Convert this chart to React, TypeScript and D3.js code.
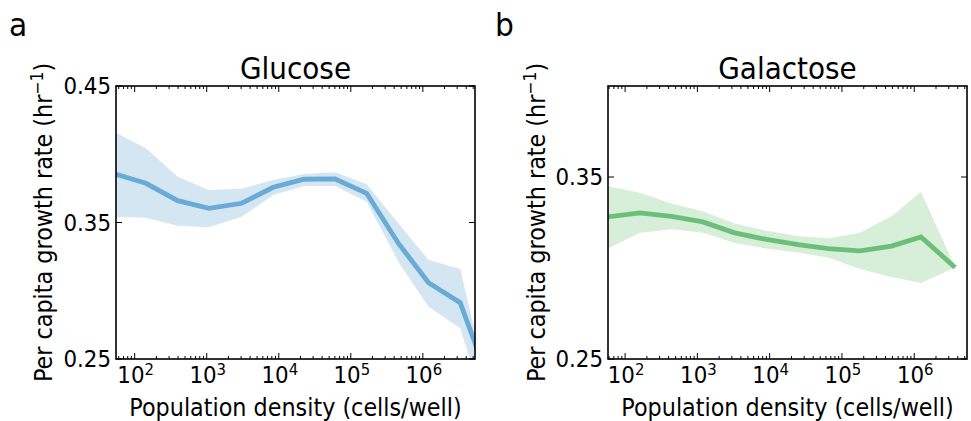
import React from "react";
import * as d3 from "d3";

const glucoseDensity = [55, 143, 395, 1070, 3060, 8400, 22400, 60600, 166000, 457000, 1200000, 3300000, 9000000];
const glucoseMean = [0.3853, 0.3787, 0.366, 0.3604, 0.3641, 0.3758, 0.3817, 0.3819, 0.3714, 0.3348, 0.3059, 0.2913, 0.2287];
const glucoseUpper = [0.4158, 0.4044, 0.3836, 0.3738, 0.3748, 0.3811, 0.3855, 0.3868, 0.378, 0.3494, 0.3225, 0.316, 0.218];
const glucoseLower = [0.3543, 0.3535, 0.3477, 0.3465, 0.3543, 0.3701, 0.3767, 0.3767, 0.3652, 0.3213, 0.2883, 0.2725, 0.2];

const galactoseDensity = [58, 159, 437, 1190, 3280, 9020, 24700, 64600, 177000, 485000, 1240000, 3470000];
const galactoseMean = [0.3281, 0.3303, 0.3284, 0.3253, 0.3193, 0.3157, 0.3129, 0.3107, 0.3094, 0.312, 0.3171, 0.3012];
const galactoseUpper = [0.3449, 0.3414, 0.3354, 0.3312, 0.3244, 0.3204, 0.3176, 0.3162, 0.3193, 0.3284, 0.3418, 0.3027];
const galactoseLower = [0.3107, 0.3193, 0.3213, 0.3193, 0.3138, 0.3107, 0.3085, 0.3058, 0.2994, 0.2951, 0.2918, 0.2998];

const xExponents = [2, 3, 4, 5, 6];
const glucoseYTicks = [0.25, 0.35, 0.45];
const galactoseYTicks = [0.25, 0.35];

const FONT = "'DejaVu Sans', Verdana, sans-serif";
const SX = 0.93;

type PanelProps = {
  id: string;
  letter: string;
  title: string;
  x0: number;
  x1: number;
  xDomain: [number, number];
  yDomain: [number, number];
  yTicks: number[];
  dens: number[];
  mean: number[];
  upper: number[];
  lower: number[];
  line: string;
  band: string;
  letterX: number;
  ylabelX: number;
};

function Panel(p: PanelProps) {
  const top = 86;
  const bottom = 359;
  const x = d3.scaleLog().domain(p.xDomain).range([p.x0, p.x1]);
  const y = d3.scaleLinear().domain(p.yDomain).range([bottom, top]);
  const idx = p.dens.map((_, i) => i);
  const area = d3
    .area<number>()
    .x((i) => x(p.dens[i]))
    .y0((i) => y(p.lower[i]))
    .y1((i) => y(p.upper[i]));
  const line = d3
    .line<number>()
    .x((i) => x(p.dens[i]))
    .y((i) => y(p.mean[i]));

  const minor: number[] = [];
  for (let e = 1; e <= 7; e++) {
    for (let m = 2; m <= 9; m++) {
      const v = m * Math.pow(10, e);
      if (v >= p.xDomain[0] && v <= p.xDomain[1]) minor.push(v);
    }
  }
  const major = xExponents.map((e) => Math.pow(10, e));
  const cx = (p.x0 + p.x1) / 2;
  const cy = (top + bottom) / 2;

  return (
    <g>
      <defs>
        <clipPath id={p.id}>
          <rect x={p.x0} y={top} width={p.x1 - p.x0} height={bottom - top} />
        </clipPath>
      </defs>
      <g clipPath={`url(#${p.id})`}>
        <path d={area(idx) || ""} fill={p.band} stroke="none" />
        <path d={line(idx) || ""} fill="none" stroke={p.line} strokeWidth={4.8} strokeLinejoin="miter" strokeLinecap="square" />
      </g>
      {minor.map((v, i) => (
        <g key={"mi" + i}>
          <line x1={x(v)} x2={x(v)} y1={bottom} y2={bottom - 3} stroke="#000" strokeWidth={1} />
          <line x1={x(v)} x2={x(v)} y1={top} y2={top + 3} stroke="#000" strokeWidth={1} />
        </g>
      ))}
      {major.map((v, i) => (
        <g key={"ma" + i}>
          <line x1={x(v)} x2={x(v)} y1={bottom} y2={bottom - 6} stroke="#000" strokeWidth={1} />
          <line x1={x(v)} x2={x(v)} y1={top} y2={top + 6} stroke="#000" strokeWidth={1} />
          <g transform={`translate(${x(v) + 1},383) scale(${SX},1)`}>
            <text textAnchor="middle" fontFamily={FONT} fontSize={23} fill="#000">
              10
              <tspan fontSize={16} dy={-8.5}>{xExponents[i]}</tspan>
            </text>
          </g>
        </g>
      ))}
      {p.yTicks.map((v, i) => (
        <g key={"y" + i}>
          <line x1={p.x0} x2={p.x0 + 6} y1={y(v)} y2={y(v)} stroke="#000" strokeWidth={1} />
          <line x1={p.x1} x2={p.x1 - 6} y1={y(v)} y2={y(v)} stroke="#000" strokeWidth={1} />
          <g transform={`translate(${p.x0 - 5},${y(v) + 8.4}) scale(${SX},1)`}>
            <text textAnchor="end" fontFamily={FONT} fontSize={23} fill="#000">
              {d3.format(".2f")(v)}
            </text>
          </g>
        </g>
      ))}
      <rect x={p.x0} y={top} width={p.x1 - p.x0} height={bottom - top} fill="none" stroke="#000" strokeWidth={1.6} />
      <g transform={`translate(${cx},79) scale(${SX},1)`}>
        <text textAnchor="middle" fontFamily={FONT} fontSize={30} fill="#000">{p.title}</text>
      </g>
      <g transform={`translate(${cx},416) scale(${SX},1)`}>
        <text textAnchor="middle" fontFamily={FONT} fontSize={24} fill="#000">Population density (cells/well)</text>
      </g>
      <g transform={`translate(${p.ylabelX},${cy}) rotate(-90) scale(${SX},1)`}>
        <text textAnchor="middle" fontFamily={FONT} fontSize={24} fill="#000">
          Per capita growth rate (hr
          <tspan fontSize={16.8} dy={-9}>−1</tspan>
          <tspan dy={9}>)</tspan>
        </text>
      </g>
      <g transform={`translate(${p.letterX},36) scale(${SX},1)`}>
        <text fontFamily={FONT} fontSize={32} fill="#000">{p.letter}</text>
      </g>
    </g>
  );
}

export default function App() {
  return (
    <svg width={971} height={421} style={{ position: "absolute", left: 0, top: 0, background: "#fff" }}>
      <rect x={0} y={0} width={971} height={421} fill="#fff" />
      <Panel
        id="clipA"
        letter="a"
        title="Glucose"
        x0={116}
        x1={475}
        xDomain={[55, 5.3e6]}
        yDomain={[0.25, 0.45]}
        yTicks={glucoseYTicks}
        dens={glucoseDensity}
        mean={glucoseMean}
        upper={glucoseUpper}
        lower={glucoseLower}
        line="#6aaad6"
        band="#d3e6f2"
        letterX={9}
        ylabelX={52}
      />
      <Panel
        id="clipB"
        letter="b"
        title="Galactose"
        x0={608}
        x1={967}
        xDomain={[58, 5.37e6]}
        yDomain={[0.25, 0.4]}
        yTicks={galactoseYTicks}
        dens={galactoseDensity}
        mean={galactoseMean}
        upper={galactoseUpper}
        lower={galactoseLower}
        line="#6cbf78"
        band="#d7eed8"
        letterX={495}
        ylabelX={545}
      />
    </svg>
  );
}
